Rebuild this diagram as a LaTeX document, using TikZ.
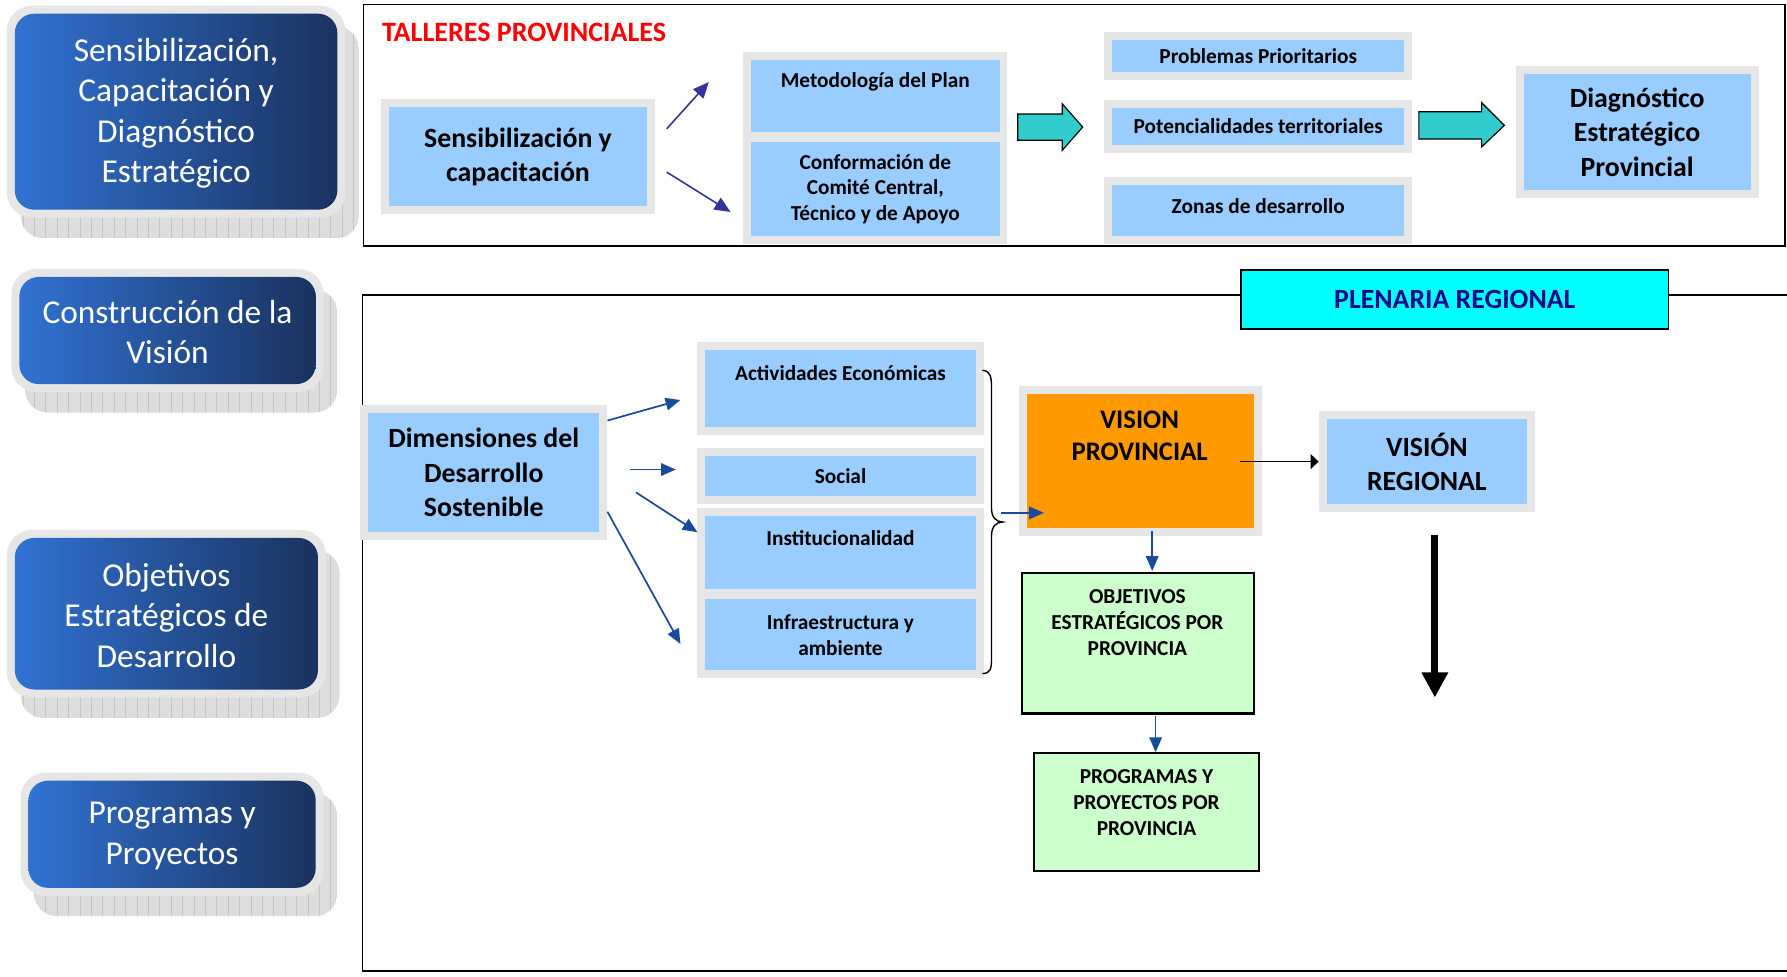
\documentclass[tikz,border=0pt]{standalone}
\usepackage{fontspec}
\setmainfont{Carlito}
\usetikzlibrary{arrows.meta}
\definecolor{rim}{HTML}{E6E6E6}
\definecolor{lblue}{HTML}{99CCFF}
\definecolor{gradL}{HTML}{3172D2}
\definecolor{gradR}{HTML}{1A325E}
\definecolor{arrind}{HTML}{333399}
\definecolor{arrblue}{HTML}{1A4A9C}
\definecolor{tealc}{HTML}{33CCCC}
\definecolor{orng}{HTML}{FF9900}
\definecolor{lgreen}{HTML}{CCFFCC}
\definecolor{navyt}{HTML}{0A0A8C}
\definecolor{cyanbox}{HTML}{00FFFF}
\definecolor{shad}{HTML}{DDDDDD}
\definecolor{gridc}{HTML}{C4C4C4}
\newcommand{\stagebox}[6]{%
  \begin{scope}
    \clip[rounded corners=20] ({#1+5},{#2+11}) rectangle ({#3+19},{#4+25});
    \fill[shad] ({#1+5},{#2+11}) rectangle ({#3+19},{#4+25});
    \draw[gridc, line width=0.35pt, step=10] ({#1+5},{#2+11}) grid ({#3+19},{#4+25});
  \end{scope}
  \fill[rim, rounded corners=22] ({#1-7},{#2-7}) rectangle ({#3+7},{#4+7});
  \shade[left color=gradL, right color=gradR, rounded corners=17] (#1,#2) rectangle (#3,#4);
  \node[stagetext] (#5) at ({(#1+#3)/2},{(#2+#4)/2+1.5}) {#6};
}
\begin{document}
\begin{tikzpicture}[x=1pt,y=-1pt,
  box/.style={fill=lblue, draw=rim, line width=7pt, inner sep=0pt, align=center},
  bigb/.style={font=\bfseries\fontsize{24.4}{30}\selectfont, align=center},
  smallb/.style={font=\bfseries\fontsize{18.7}{22.8}\selectfont, align=center},
  stagetext/.style={font=\fontsize{29.3}{35.5}\selectfont, text=white, align=center},
  frameline/.style={draw=black, line width=1.6pt},
  iarr/.style={draw=arrind, line width=1.4pt, -{Triangle[length=14pt,width=12pt]}},
  barr/.style={draw=arrblue, line width=1.5pt, -{Triangle[length=13pt,width=11pt]}},
  tealarr/.style={fill=tealc, draw=black, line width=1pt, line join=miter},
  greenbox/.style={fill=lgreen, draw=black, line width=2pt, inner sep=0pt}
]
\useasboundingbox (0,0) rectangle (1568,857);

% ---------- left stage boxes ----------
\stagebox{13}{12}{296}{184}{st1}{Sensibilización,\\Capacitación y\\Diagnóstico\\Estratégico}
\stagebox{17}{243}{277}{337}{st2}{Construcción de la\\Visión}
\stagebox{13}{472}{279}{605}{st3}{Objetivos\\Estratégicos de\\Desarrollo}
\stagebox{25}{685}{277}{779}{st4}{Programas y\\Proyectos}

% ---------- top frame: talleres provinciales ----------
\draw[frameline] (319,4) rectangle (1566,216);
\node[font=\bfseries\fontsize{24.6}{30}\selectfont, text=red, anchor=west, inner sep=0pt] (talleres) at (335,28) {TALLERES PROVINCIALES};

\node[box, bigb, minimum width=234pt, minimum height=94pt] (sens) at (454.5,137.5) {Sensibilización y\\capacitación};

\node[box, minimum width=225pt, minimum height=70pt] (metod) at (768,84.5) {};
\node[smallb] (metodt) at (768,72) {Metodología del Plan};
\node[box, smallb, minimum width=225pt, minimum height=89pt] (conf) at (768,166) {Conformación de\\Comité Central,\\Técnico y de Apoyo};

\coordinate (a1s) at (585,113); \coordinate (a1e) at (622,72);
\coordinate (a2s) at (585,151); \coordinate (a2e) at (641,186);
\draw[iarr] (a1s) -- (a1e);
\draw[iarr] (a2s) -- (a2e);

\draw[tealarr] (893,100) -- (932,100) -- (932,91) -- (950,111.5) -- (932,132) -- (932,123) -- (893,123) -- cycle;
\draw[tealarr] (1245,98) -- (1300,98) -- (1300,90) -- (1320,110) -- (1300,129) -- (1300,122) -- (1245,122) -- cycle;

\node[box, smallb, minimum width=263pt, minimum height=35pt] (probl) at (1104,49) {Problemas Prioritarios};
\node[box, smallb, minimum width=263pt, minimum height=39pt] (poten) at (1104,111) {Potencialidades territoriales};
\node[box, minimum width=263pt, minimum height=52pt] (zonas) at (1104,184.5) {};
\node[smallb] (zonast) at (1104,181) {Zonas de desarrollo};

\node[box, bigb, minimum width=206pt, minimum height=109pt] (diag) at (1436.5,116) {Diagnóstico\\Estratégico\\Provincial};

% ---------- bottom frame: plenaria regional ----------
\draw[frameline] (1568,259) -- (318,259) -- (318,852) -- (1568,852);
\node[fill=cyanbox, draw=black, line width=1.6pt, minimum width=375pt, minimum height=52pt, inner sep=0pt,
      font=\bfseries\fontsize{24.4}{30}\selectfont, text=navyt] (plen) at (1276.5,263) {PLENARIA REGIONAL};

\node[box, bigb, minimum width=210pt, minimum height=112pt] (dim) at (424.5,414.5) {Dimensiones del\\Desarrollo\\Sostenible};

\node[box, minimum width=244pt, minimum height=75pt] (activ) at (737.5,341) {};
\node[smallb] (activt) at (737.5,327) {Actividades Económicas};
\node[box, smallb, minimum width=244pt, minimum height=42pt] (social) at (737.5,417.5) {Social};
\node[box, minimum width=244pt, minimum height=71pt] (instit) at (737.5,485) {};
\node[smallb] (institt) at (737.5,472) {Institucionalidad};
\node[box, smallb, minimum width=244pt, minimum height=69pt] (infra) at (737.5,557) {Infraestructura y\\ambiente};

\coordinate (d1s) at (533,369); \coordinate (d1e) at (597,351);
\coordinate (d2s) at (553,412); \coordinate (d2e) at (593,412);
\coordinate (d3s) at (558,432); \coordinate (d3e) at (612,467);
\coordinate (d4s) at (533,449); \coordinate (d4e) at (597,565);
\draw[barr] (d1s) -- (d1e);
\draw[barr] (d2s) -- (d2e);
\draw[barr] (d3s) -- (d3e);
\draw[barr] (d4s) -- (d4e);

\draw[line width=1.2pt] (862,325) .. controls (869,325) and (870,331) .. (870,340) -- (870,446)
  .. controls (870,454) and (874,458) .. (880,458)
  .. controls (874,458) and (870,462) .. (870,470) -- (870,578)
  .. controls (870,587) and (869,591) .. (862,591);

\node[fill=orng, draw=rim, line width=7pt, inner sep=0pt, minimum width=206pt, minimum height=124pt] (vprov) at (1000.5,404.5) {};
\node[bigb, font=\bfseries\fontsize{23.5}{28}\selectfont] (vprovt) at (1000,382) {VISION\\PROVINCIAL};

\coordinate (brs) at (878,450); \coordinate (bre) at (916,450);
\draw[barr] (brs) -- (bre);

\node[box, bigb, minimum width=183pt, minimum height=81pt] (vreg) at (1252,405) {VISIÓN\\REGIONAL};
\coordinate (vps) at (1088,405);
\draw[black, line width=1.3pt, -{Triangle[length=7pt,width=13pt]}] (vps) -- (vreg.west);

\coordinate (tks) at (1259,469); \coordinate (tke) at (1259,612);
\draw[black, line width=6pt, -{Triangle[length=22pt,width=22pt]}] (tks) -- (tke);

\node[greenbox, minimum width=203pt, minimum height=123pt] (obj) at (998.5,564.5) {};
\node[smallb] (objt) at (998,546) {OBJETIVOS\\ESTRATÉGICOS POR\\PROVINCIA};
\coordinate (vpb) at (1011,466);
\draw[barr] (vpb) -- (1011,501);

\node[greenbox, minimum width=198pt, minimum height=103pt] (prog) at (1006,712.5) {};
\node[smallb] (progt) at (1006,704.5) {PROGRAMAS Y\\PROYECTOS POR\\PROVINCIA};
\coordinate (obb) at (1014,628);
\draw[barr] (obb) -- (prog.north -| obb);
\end{tikzpicture}
\end{document}
